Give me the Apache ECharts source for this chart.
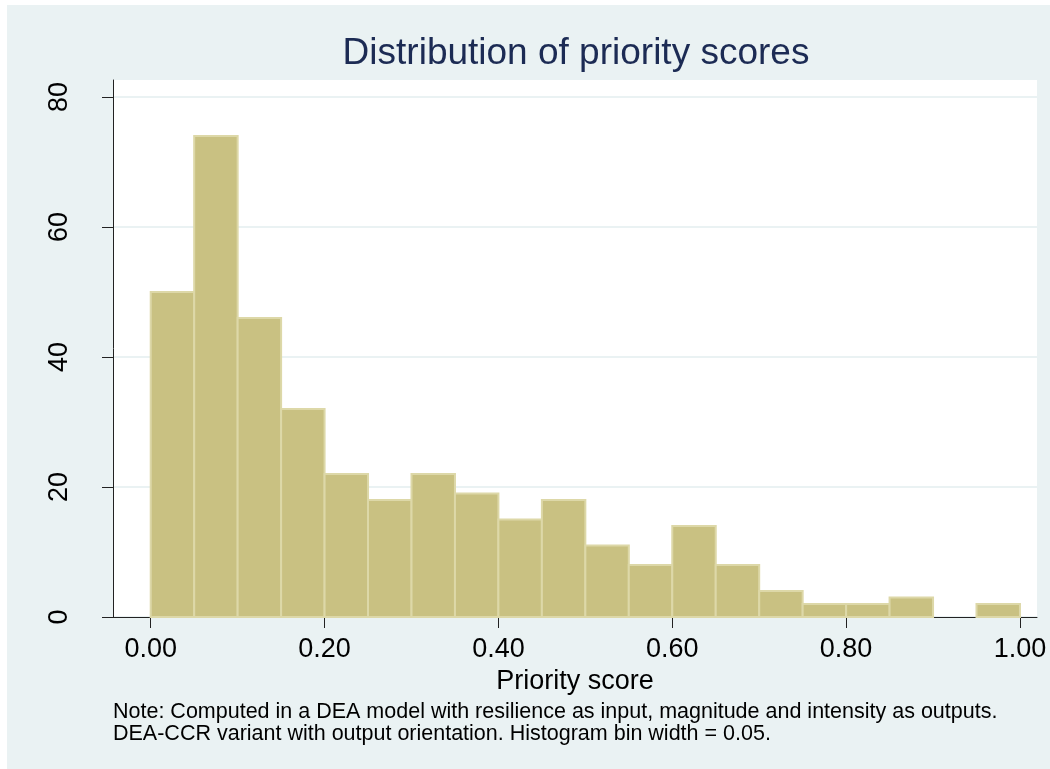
<!DOCTYPE html>
<html>
<head>
<meta charset="utf-8">
<script src="https://cdn.jsdelivr.net/npm/echarts@6/dist/echarts.min.js"></script>
<style>
html,body{margin:0;padding:0;background:#ffffff;}
#chart{width:1050px;height:769px;}
</style>
</head>
<body>
<div id="chart"></div>
<script>
// ---- data ----
var titleText = 'Distribution of priority scores';
var xAxisName = 'Priority score';
var binStart = 0;
var binWidth = 0.05;
var counts = [50, 74, 46, 32, 22, 18, 22, 19, 15, 18, 11, 8, 14, 8, 4, 2, 2, 3, 0, 2];
var xTicks = [0, 0.2, 0.4, 0.6, 0.8, 1.0];
var yTicks = [0, 20, 40, 60, 80];
var noteLines = [
  'Note: Computed in a DEA model with resilience as input, magnitude and intensity as outputs.',
  'DEA-CCR variant with output orientation. Histogram bin width = 0.05.'
];

var bins = counts.map(function (c, i) {
  var x0 = +(binStart + i * binWidth).toFixed(4);
  return [x0, +(x0 + binWidth).toFixed(4), c];
});

var FONT = "'Liberation Sans', Arial, sans-serif";
var chart = echarts.init(document.getElementById('chart'), null, {renderer: 'canvas'});

var option = {
  backgroundColor: '#ffffff',
  animation: false,
  graphic: [
    {type: 'rect', z: -10, shape: {x: 7, y: 5, width: 1043, height: 764}, style: {fill: '#EAF2F3'}},
    {type: 'text', left: 113, top: 701, z: 10, style: {text: noteLines[0], font: '21.5px ' + FONT, fill: '#000000'}},
    {type: 'text', left: 113, top: 723, z: 10, style: {text: noteLines[1], font: '21.5px ' + FONT, fill: '#000000'}},
    {type: 'text', x: 576, y: 35, z: 10, style: {text: titleText, font: '37px ' + FONT, fill: '#1C2B54', align: 'center', verticalAlign: 'top'}}
  ],
  grid: {
    left: 113, top: 80, width: 924, height: 537,
    show: true, backgroundColor: '#ffffff', borderWidth: 0
  },
  xAxis: {
    type: 'value',
    min: -0.0434,
    max: 1.0196,
    name: xAxisName,
    nameLocation: 'middle',
    nameGap: 42,
    nameTextStyle: {fontFamily: FONT, fontSize: 27, color: '#000000'},
    axisLine: {show: true, onZero: false, lineStyle: {color: '#222222', width: 1}},
    axisTick: {show: true, length: 11, inside: false, customValues: xTicks, lineStyle: {color: '#222222', width: 1}},
    axisLabel: {
      customValues: xTicks,
      margin: 19,
      fontFamily: FONT, fontSize: 27, color: '#000000',
      formatter: function (v) { return v.toFixed(2); }
    },
    splitLine: {show: false}
  },
  yAxis: {
    type: 'value',
    min: 0,
    max: 82.615,
    interval: 20,
    axisLine: {show: true, onZero: false, lineStyle: {color: '#222222', width: 1}},
    axisTick: {show: true, length: 11, customValues: yTicks, lineStyle: {color: '#222222', width: 1}},
    axisLabel: {
      customValues: yTicks,
      rotate: 90,
      margin: 40,
      fontFamily: FONT, fontSize: 27, color: '#000000'
    },
    splitLine: {show: true, lineStyle: {color: '#EAF2F3', width: 2}}
  },
  series: [{
    type: 'custom',
    data: bins,
    encode: {x: [0, 1], y: 2},
    renderItem: function (params, api) {
      var p0 = api.coord([api.value(0), 0]);
      var p1 = api.coord([api.value(1), api.value(2)]);
      if (api.value(2) <= 0) return null;
      return {
        type: 'rect',
        shape: {x: p0[0], y: p1[1], width: p1[0] - p0[0], height: p0[1] - p1[1]},
        style: {fill: '#C9C182', stroke: '#DDD8A8', lineWidth: 2}
      };
    }
  }]
};
chart.setOption(option);
</script>
</body>
</html>
